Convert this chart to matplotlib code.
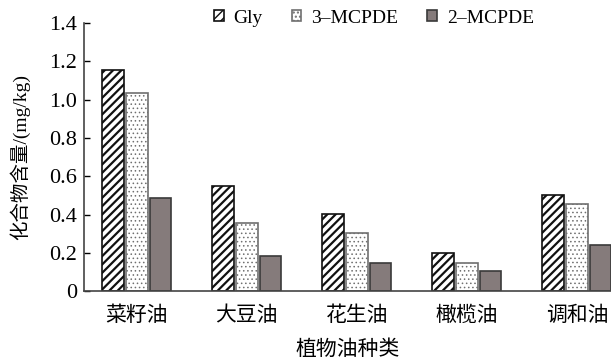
import matplotlib
matplotlib.use("Agg")
import matplotlib.pyplot as plt
import numpy as np

plt.rcParams['font.family'] = ['Liberation Serif', 'Noto Sans CJK SC']

oils = ['菜籽油', '大豆油', '花生油', '橄榄油', '调和油']
series = ['Gly', '3–MCPDE', '2–MCPDE']
gly = [1.155, 0.549, 0.402, 0.200, 0.503]
mcpde3 = [1.033, 0.354, 0.303, 0.148, 0.453]
mcpde2 = [0.484, 0.183, 0.148, 0.104, 0.240]
yticks = [0, 0.2, 0.4, 0.6, 0.8, 1.0, 1.2, 1.4]
ytick_labels = ['0', '0.2', '0.4', '0.6', '0.8', '1.0', '1.2', '1.4']

fig = plt.figure(figsize=(6.11, 3.59), dpi=100)
ax = fig.add_axes([0.1375, 0.189, 0.8625, 0.7465])

x = np.arange(len(oils))
w = 0.197
step = 0.215
styles = [
    dict(facecolor='white', edgecolor='#111111', hatch='////', hlw=1.6),
    dict(facecolor='white', edgecolor='#707070', hatch='....', hlw=0.6),
    dict(facecolor='#857b7b', edgecolor='#3a3a3a', hatch=None, hlw=1.0),
]
for i, (vals, name, st) in enumerate(zip([gly, mcpde3, mcpde2], series, styles)):
    st = dict(st)
    hlw = st.pop('hlw')
    with plt.rc_context({'hatch.linewidth': hlw}):
        ax.bar(x + (i - 1) * step, vals, width=w, label=name, linewidth=1.2, **st)

ax.set_xlim(-0.48, 4.31)
ax.set_ylim(0, 1.4)
ax.set_yticks(yticks)
ax.set_yticklabels(ytick_labels, fontsize=16)
ax.set_xticks(x)
ax.set_xticklabels(oils, fontsize=15, family=['Noto Sans CJK SC'])
ax.tick_params(axis='y', direction='in', length=4, width=1, pad=5)
ax.tick_params(axis='x', length=0, pad=9)
for s in ['top', 'right']:
    ax.spines[s].set_visible(False)
for s in ['left', 'bottom']:
    ax.spines[s].set_color('#444444')
    ax.spines[s].set_linewidth(1.2)

ax.set_ylabel('化合物含量/(mg/kg)', fontsize=14, labelpad=14)
ax.set_xlabel('植物油种类', fontsize=15, family=['Noto Sans CJK SC'], labelpad=9)

leg = ax.legend(loc='center', bbox_to_anchor=(0.55, 1.019), ncol=3, frameon=False,
                fontsize=14, handlelength=0.5, handleheight=0.5, handletextpad=0.5,
                columnspacing=1.5, borderaxespad=0)

fig.savefig('out.png', dpi=100)
